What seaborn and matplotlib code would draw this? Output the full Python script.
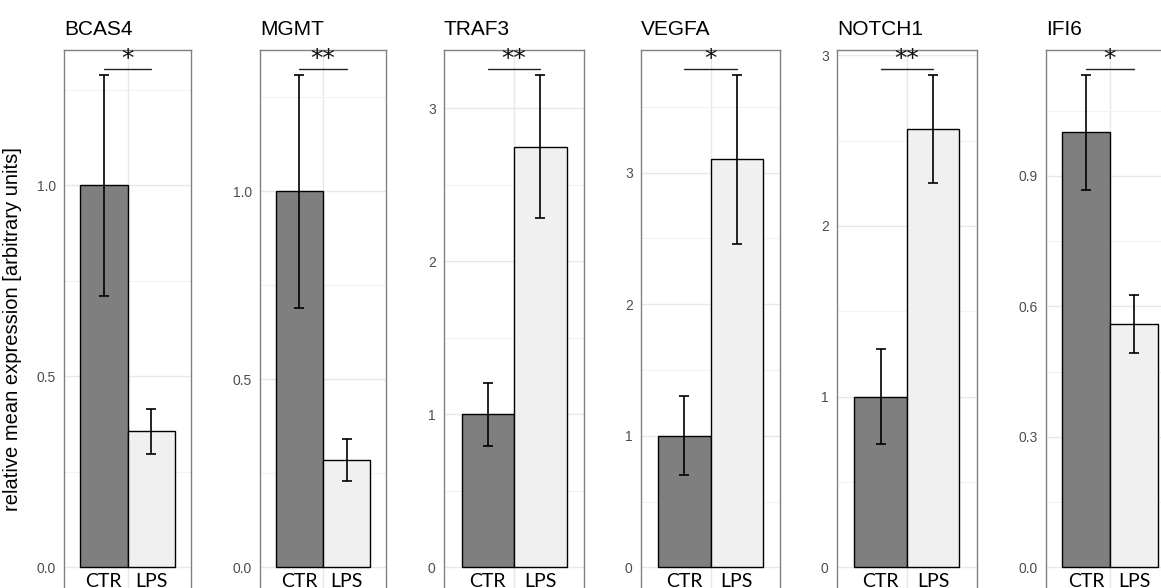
import numpy as np
import pandas as pd
import matplotlib
matplotlib.use('Agg')
import matplotlib.pyplot as plt
import matplotlib.transforms as mtransforms
from matplotlib.ticker import MultipleLocator, FormatStrFormatter
import seaborn as sns

# values (CTR normalised to 1)
genes = ['BCAS4', 'MGMT', 'TRAF3', 'VEGFA', 'NOTCH1', 'IFI6']
groups = ['CTR', 'LPS']
ctr_mean = [1.0, 1.0, 1.0, 1.0, 1.0, 1.0]
ctr_err = [0.29, 0.31, 0.205, 0.30, 0.28, 0.133]
lps_mean = [0.356, 0.285, 2.75, 3.10, 2.57, 0.559]
lps_err = [0.058, 0.056, 0.47, 0.645, 0.316, 0.067]
stars = ['*', '**', '**', '*', '**', '*']
tick_step = [0.5, 0.5, 1, 1, 1, 0.3]
tick_fmt = ['%.1f', '%.1f', '%d', '%d', '%d', '%.1f']

bar_colors = {'CTR': '#7F7F7F', 'LPS': '#F0F0F0'}

sns.set_style('white')
plt.rcParams['font.family'] = ['Liberation Sans', 'DejaVu Sans']

W, H = 1161, 588
fig = plt.figure(figsize=(W / 100, H / 100), dpi=100)

# panel placement in pixels (the bottom edge runs past the picture)
panel_left = [64, 260, 444, 641, 837, 1046]
panel_width = [127, 126, 140, 139, 140, 128]
panel_top, panel_bottom = 50, 592

for i, gene in enumerate(genes):
    ax = fig.add_axes([panel_left[i] / W, 1 - panel_bottom / H,
                       panel_width[i] / W, (panel_bottom - panel_top) / H])
    df = pd.DataFrame({'gene': gene, 'group': groups,
                       'value': [ctr_mean[i], lps_mean[i]]})
    sns.barplot(data=df, x='gene', y='value', hue='group', hue_order=groups,
                palette=bar_colors, edgecolor='black', linewidth=1.0,
                width=0.9, errorbar=None, legend=False, ax=ax, zorder=2)

    means = [ctr_mean[i], lps_mean[i]]
    errs = [ctr_err[i], lps_err[i]]
    xs = [p.get_x() + p.get_width() / 2 for p in ax.patches[:2]]
    ax.errorbar(xs, means, yerr=errs, fmt='none', ecolor='black',
                elinewidth=1.2, capsize=3.3, capthick=1.2, zorder=3)

    emax = max(m + e for m, e in zip(means, errs))
    ax.set_ylim(-0.05 * emax, 1.05 * emax)
    ax.set_xlim(-0.6, 0.6)

    # significance bracket
    ysig = 1.012 * emax
    ax.plot(xs, [ysig, ysig], color='#222222', lw=1.0, zorder=3)
    ax.text(np.mean(xs), ysig + 0.006 * emax, stars[i], ha='center', va='baseline',
            fontsize=18, family=['DejaVu Sans'], color='#111111')

    # group labels just under the zero line
    trans = mtransforms.blended_transform_factory(ax.transData, ax.transAxes)
    for x, g in zip(xs, groups):
        ax.text(x, 0.009, g, transform=trans, ha='center', va='baseline',
                fontsize=14, family=['Lato', 'DejaVu Sans'], color='black')

    ax.yaxis.set_major_locator(MultipleLocator(tick_step[i]))
    ax.yaxis.set_minor_locator(MultipleLocator(tick_step[i] / 2))
    ax.yaxis.set_major_formatter(FormatStrFormatter(tick_fmt[i]))
    ax.set_xticks([0])
    ax.set_axisbelow(True)
    ax.grid(True, which='major', color='#E8E8E8', lw=1.0)
    ax.grid(True, which='minor', axis='y', color='#F2F2F2', lw=0.8)
    ax.tick_params(axis='x', length=0, labelbottom=False)
    ax.tick_params(axis='y', which='major', length=4, width=1, color='#333333',
                   labelcolor='#4D4D4D', labelsize=10, pad=2)
    ax.tick_params(axis='y', which='minor', length=0)
    for s in ax.spines.values():
        s.set_visible(True)
        s.set_color('#808080')
        s.set_linewidth(1.0)
    ax.set_xlabel('')
    ax.set_ylabel('')
    ax.set_title(gene, loc='left', fontsize=15, pad=10.5, color='black')

fig.text(12.5 / W, 1 - 329 / H, 'relative mean expression [arbitrary units]',
         rotation=90, ha='center', va='center', fontsize=14.5, color='black')

fig.savefig('out.png', dpi=100)
